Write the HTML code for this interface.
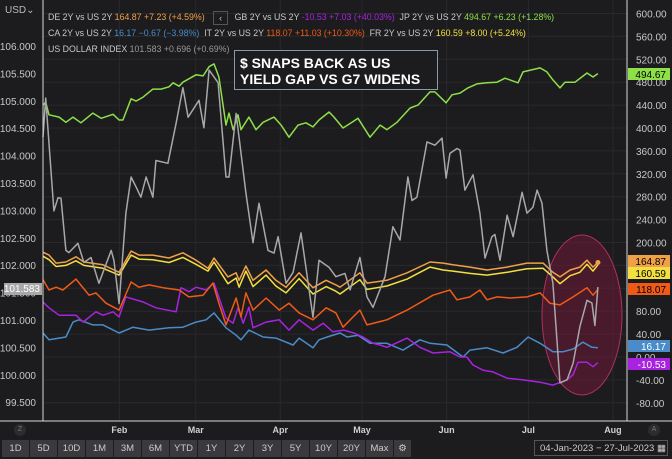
<!DOCTYPE html>
<html><head><meta charset="utf-8"><style>
body{margin:0;background:#1c1c1e;width:672px;height:459px;overflow:hidden;font-family:"Liberation Sans",sans-serif}
svg{display:block}
</style></head><body>
<svg id="c" width="672" height="459" xmlns="http://www.w3.org/2000/svg">
<rect width="672" height="459" fill="#1c1c1e"/>
<g id="grid"></g>
<g id="series"></g>
<g id="axes"></g>
</svg>
<script>
const NS="http://www.w3.org/2000/svg";
const monthLabels=["Feb","Mar","Apr","May","Jun","Jul","Aug"];
const monthDays=[28,56,87,117,148,178,209];
const leftTicks=[106,105.5,105,104.5,104,103.5,103,102.5,102,101.5,101,100.5,100,99.5];
const rightTicks=[600,560,520,480,440,400,360,320,280,240,200,160,120,80,40,0,-40,-80];
const dxyDays=[0,1,4,5.5,6.6,8.4,9.5,12.8,15,17.6,20.5,25,26,27.9,30.4,32.3,34.1,35.9,37.8,40.3,41.4,45.8,48.8,51.3,53.2,57.2,59,60.9,64.2,67.1,68.2,70.8,74.4,77,79.2,82.5,84.7,86.2,89.1,91.7,94.6,99,101.2,104.9,107.4,110.7,112.6,116.2,118.8,121,125.4,128.3,130.9,133.8,135.3,137.1,140.8,143.7,146.3,147.8,149.2,151.8,152.9,154.7,157.7,160.2,162.1,164.6,165.7,167.6,170.2,172.4,175.7,177.5,179.7,181.2,183,184.8,187,189.6,192.2,194.4,196.9,199.5,201.3,202.4,203.5];
const dxyVals=[104.34,105.05,102.99,103.23,103.22,102.27,102.23,102.40,102.05,102.14,101.67,102.27,102.09,101.30,102.95,103.61,103.43,103.24,103.61,103.24,103.91,103.86,104.59,105.24,104.70,105.01,104.51,105.56,105.33,103.61,103.61,104.77,103.32,102.41,103.13,102.27,102.22,102.52,101.67,101.87,102.59,101.05,102.09,101.96,101.79,101.85,101.55,102.14,101.42,101.23,101.79,102.70,102.46,103.61,103.18,103.24,104.25,104.19,104.32,103.59,104.04,104.13,104.10,103.37,103.65,102.95,102.13,102.52,102.56,102.09,102.91,102.52,103.33,102.95,103.06,103.37,103.13,102.27,101.67,99.85,99.91,100.21,100.88,101.36,101.31,100.90,101.60];
const jpDays=[0,1,2.2,5.9,8.4,11,13.9,18.3,21.3,25.7,27.9,29.3,32.3,34.1,36.7,40.3,43.3,46.2,47.7,49.9,51.3,53.5,56.1,58.7,60.9,62.7,64.5,67.1,68.2,69.7,71.5,72.6,75.5,78.1,80.7,84.7,87.3,90.2,93.5,96.4,99,101.2,104.9,106.7,110,113.3,115.5,119.9,123.6,126.1,129.8,134.6,137.5,141.9,143.7,147.8,150,152.9,155.8,159.1,162.8,166.5,169.4,174.2,176,182.3,184.8,187,189.6,191.4,195.1,199.5,201.7,203.5];
const jpVals=[440,445,423,419,410,419,409,426,417,424,414,414,451,447,454,468,468,472,479,473,480,486,493,491,507,512,489,405,426,397,423,397,419,397,410,419,405,384,405,409,402,414,428,419,400,410,417,384,405,397,410,435,440,463,463,444,458,461,470,477,479,480,487,479,498,505,498,484,470,480,480,496,489,495];
const deDays=[0,2.2,4.8,8.4,12.1,15,22,27.9,32.3,35.2,40.3,46.2,51.3,56.1,60.5,62.7,67.8,70.8,71.9,74.4,77,81.8,85.4,89.1,93.9,99,103.8,107.4,108.9,116.2,118.8,126.1,133.5,141.9,146.7,150.3,156.6,162.8,170.2,177.5,183.4,187,189.6,193.3,196.9,199.5,201.7,203.5];
const deVals=[183,178,164,166,175,166,161,148,185,178,178,173,182,169,155,173,140,147,134,159,134,152,134,122,147,121,134,126,122,147,129,134,147,166,164,161,157,152,157,164,164,148,140,152,157,169,157,165];
const frVals=[176,170,158,160,168,160,155,143,178,171,170,165,174,162,150,166,128,138,122,150,123,143,124,112,137,110,123,115,110,135,118,124,136,157,152,150,146,143,148,154,155,140,128,142,148,162,150,161];
const itDays=[0,2.2,4.8,7.3,12.1,16.9,19.4,23.1,27.9,32.3,35.2,38.9,44,49.9,53.5,58.7,62.3,64.5,67.1,70.8,72.6,74.4,77,81.8,86.6,90.2,93.9,99,103.8,107.4,110,113.7,116.2,118.8,126.1,133.5,143,149.2,151.8,156.6,160.2,162.8,166.5,171.2,177.5,182.3,185.9,189.6,194.4,199.5,201.7,203.5];
const itVals=[135,117,122,117,136,108,112,94,82,131,122,126,121,117,105,108,129,94,56,103,70,112,82,103,82,94,77,65,86,77,52,70,82,56,65,82,108,117,100,105,117,100,105,103,105,112,94,91,105,121,108,118];
const gbDays=[0,2.2,5.9,12.1,14.7,19.4,22,25.7,27.9,30.4,36.7,41.4,48.8,50.6,53.5,56.1,59.8,62.7,67.1,69.7,71.5,73.4,75.5,77,81.8,86.6,90.2,93.9,99,102.7,106.3,110.3,114,117.3,121,123.6,126.1,133.5,138.2,143,149.2,152.9,155.4,157.7,161.4,165,170.2,176,182.3,187,192.2,194.4,196.2,199.5,201.7,203.5];
const gbVals=[96,86,73,73,61,79,73,79,70,105,96,86,79,121,114,122,117,129,68,59,86,59,87,51,61,65,47,65,47,59,44,47,42,35,24,21,17,33,17,7,9,0,0,-14,-23,-26,-37,-40,-44,-49,-40,-31,-9,-9,-17,-10];
const caDays=[0,2.2,5.9,8.4,11,13.2,18.3,22,27.9,33,38.9,46.2,51.3,56.1,59.8,62.7,67.1,70.8,72.6,75.5,80.7,85.4,91.7,93.9,99,101.2,104.2,108.9,111.5,115.5,119.9,126.1,132,138.2,141.9,148.1,154,156.6,162.8,168.7,173.8,177.9,182.3,187,190.7,194.4,198,201.3,203.5];
const caVals=[42,30,33,35,61,65,56,56,42,52,47,51,52,61,65,77,51,38,30,47,35,33,21,33,16,30,35,42,35,38,24,24,12,30,24,21,0,12,16,7,17,35,24,9,9,14,26,17,16];

const X0=43,PX_DAY=2.727;
const xS=d=>X0+d*PX_DAY;
const yL=v=>46+(106-v)*54.8;
const yR=v=>357-v*22.9/40;

const grid=document.getElementById('grid'),ser=document.getElementById('series'),ax=document.getElementById('axes');
function el(tag,attrs,parent,text){const e=document.createElementNS(NS,tag);for(const k in attrs)e.setAttribute(k,attrs[k]);if(text!==undefined)e.textContent=text;parent.appendChild(e);return e;}

rightTicks.forEach(t=>{const l=el('line',{x1:43,x2:627,y1:yR(t),y2:yR(t),stroke:'#29292c','stroke-width':1},grid);


const tx=el('text',{x:636,y:yR(t)+4,fill:'#c8c8c8','font-size':10},ax,t.toFixed(2));

});
monthDays.forEach((d,i)=>{const l=el('line',{x1:xS(d),x2:xS(d),y1:0,y2:421,stroke:'#29292c','stroke-width':1},grid);


const tx=el('text',{x:xS(d),y:433,fill:'#d0d0d0','font-size':9,'text-anchor':'middle','font-weight':'bold'},ax,monthLabels[i]);

});
leftTicks.forEach(t=>{const tx=el('text',{x:36,y:yL(t)+4,fill:'#c8c8c8','font-size':10,'text-anchor':'end'},ax,t.toFixed(3));

});

const ell=el('ellipse',{cx:582,cy:315,rx:40,ry:80,fill:'rgba(110,25,55,0.55)',stroke:'#b03060','stroke-width':1},ser);



function line(days,vals,ys,color,name){const p=days.map((d,i)=>xS(d).toFixed(1)+','+ys(vals[i]).toFixed(1)).join(' ');
const e=el('polyline',{points:p,fill:'none',stroke:color,'stroke-width':1.5,'stroke-linejoin':'round'},ser);

}
line(caDays,caVals,yR,'#4a8cc8','ca-2y-spread-line');
line(gbDays,gbVals,yR,'#a823e0','gb-2y-spread-line');
line(itDays,itVals,yR,'#f05a18','it-2y-spread-line');
line(deDays,frVals,yR,'#f2e040','fr-2y-spread-line');
line(deDays,deVals,yR,'#f0a048','de-2y-spread-line');
line(jpDays,jpVals,yR,'#8ee048','jp-2y-spread-line');
line(dxyDays,dxyVals,yL,'#a8a8a8','us-dollar-index-line');
const dot=el('circle',{cx:xS(203.5),cy:yR(165),r:2.5,fill:'#f0a048'},ser);



[[43,0,43,421],[627,0,627,421],[0,421,672,421]].forEach(a=>{const l=el('line',{x1:a[0],y1:a[1],x2:a[2],y2:a[3],stroke:'#d8d8d8','stroke-width':1},ax);

});

const badges=[[494.67,'#8ee048','#000','494.67'],[164.87,'#f0a048','#000','164.87'],[160.59,'#f2e040','#000','160.59'],[118.07,'#f05a18','#000','118.07'],[16.17,'#4a8cc8','#fff','16.17'],[-10.53,'#a823e0','#fff','-10.53']];
const badgeY=[74,261,273,289,346,364];
badges.forEach((b,i)=>{const g=el('g',{},ax);


el('rect',{x:628,y:badgeY[i]-6,width:42,height:12,fill:b[1]},g);
el('text',{x:666,y:badgeY[i]+4,fill:b[2],'font-size':10,'text-anchor':'end'},g,b[3]);});
const lb=el('g',{},ax);


el('rect',{x:4,y:283,width:38,height:12,fill:'#a8a8a8'},lb);
el('text',{x:40,y:292,fill:'#fff','font-size':10,'text-anchor':'end'},lb,'101.583');
</script>
<div style="position:absolute;left:5px;top:5px;color:#bbb;font-size:10px">USD⌄</div>
<div style="position:absolute;left:48px;top:9px;font-size:8.8px;line-height:16px;white-space:nowrap;color:#c8c8c8">
<div><span>DE 2Y vs US 2Y <span style="color:#f0a048">164.87 +7.23 (+4.59%)</span></span>
<span style="display:inline-block;width:13px;height:12px;border:1px solid #555;text-align:center;margin:0 4px 0 6px;vertical-align:middle;line-height:12px">‹</span>
<span>GB 2Y vs US 2Y <span style="color:#a823e0">-10.53 +7.03 (+40.03%)</span></span>&nbsp;
<span>JP 2Y vs US 2Y <span style="color:#8ee048">494.67 +6.23 (+1.28%)</span></span></div>
<div><span>CA 2Y vs US 2Y <span style="color:#4a8cc8">16.17 −0.67 (−3.98%)</span></span>&nbsp;
<span>IT 2Y vs US 2Y <span style="color:#f05a18">118.07 +11.03 (+10.30%)</span></span>&nbsp;
<span>FR 2Y vs US 2Y <span style="color:#f2e040">160.59 +8.00 (+5.24%)</span></span></div>
<div><span>US DOLLAR INDEX <span style="color:#999">101.583 +0.696 (+0.69%)</span></span></div>
</div>
<div style="position:absolute;left:234px;top:50px;width:204px;height:40px;border:1px solid #8a98a8;background:#1c1c1e;color:#fff;font-weight:bold;font-size:14px;line-height:16px;padding-left:5px;box-sizing:border-box;padding-top:4px;white-space:nowrap">$ SNAPS BACK AS US<br>YIELD GAP VS G7 WIDENS</div>
<div style="position:absolute;left:14px;top:424px;width:12px;height:12px;border-radius:6px;background:#2c2c30;color:#777;font-size:7px;text-align:center;line-height:12px">Z</div>
<div style="position:absolute;left:648px;top:424px;width:12px;height:12px;border-radius:6px;background:#2c2c30;color:#777;font-size:7px;text-align:center;line-height:12px">A</div>
<div style="position:absolute;left:2px;top:440px;display:flex;gap:1px">
<script>
const ranges=["1D","5D","10D","1M","3M","6M","YTD","1Y","2Y","3Y","5Y","10Y","20Y","Max","⚙"];
const widths=[27,27,27,27,27,27,27,27,27,27,27,27,27,27,17];
ranges.forEach((r,i)=>{document.write('<div style="width:'+widths[i]+'px;height:17px;background:#3a3a3e;color:#ccc;font-size:9.5px;text-align:center;line-height:17px">'+r+'</div>');});
</script>
</div>
<div style="position:absolute;left:534px;top:440px;width:134px;height:16px;border:1px solid #555;color:#ccc;font-size:9.5px;line-height:16px;padding-left:5px;box-sizing:border-box">04-Jan-2023 − 27-Jul-2023 ▦</div>
</body></html>
